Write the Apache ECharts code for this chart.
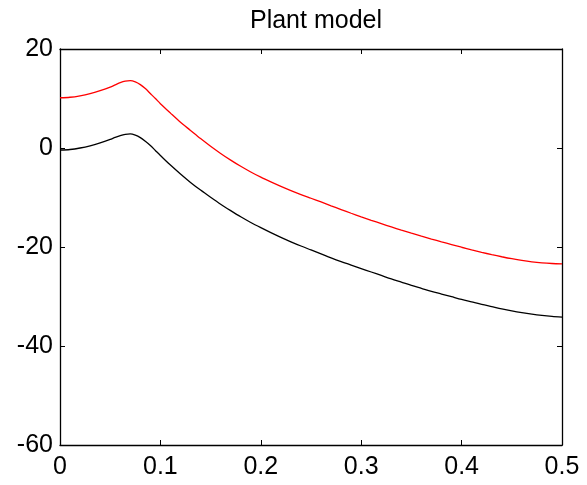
<!DOCTYPE html>
<html>
<head>
<meta charset="utf-8">
<script src="https://cdn.jsdelivr.net/npm/echarts@6/dist/echarts.min.js"></script>
<style>html,body{margin:0;padding:0;background:#fff;}#c{width:587px;height:485px;}</style>
</head>
<body>
<div id="c"></div>
<script>
var xValues = [0, 0.01, 0.02, 0.03, 0.04, 0.05, 0.055, 0.06, 0.065, 0.07, 0.075, 0.08, 0.085, 0.09, 0.095, 0.1, 0.11, 0.12, 0.13, 0.14, 0.15, 0.16, 0.17, 0.18, 0.19, 0.2, 0.21, 0.22, 0.23, 0.24, 0.25, 0.26, 0.27, 0.28, 0.29, 0.3, 0.31, 0.32, 0.33, 0.34, 0.35, 0.36, 0.37, 0.38, 0.39, 0.4, 0.41, 0.42, 0.43, 0.44, 0.45, 0.46, 0.47, 0.48, 0.49, 0.5];
var redValues = [10.15, 10.25, 10.55, 11.0, 11.6, 12.3, 12.75, 13.2, 13.5, 13.6, 13.35, 12.8, 12.0, 11.0, 10.0, 8.95, 7.05, 5.2, 3.55, 1.9, 0.35, -1.1, -2.45, -3.7, -4.85, -5.9, -6.85, -7.75, -8.6, -9.4, -10.15, -10.9, -11.68, -12.44, -13.18, -13.9, -14.6, -15.28, -15.95, -16.6, -17.22, -17.82, -18.4, -18.96, -19.5, -20.05, -20.58, -21.08, -21.54, -21.97, -22.37, -22.72, -23.0, -23.2, -23.33, -23.4];
var blackValues = [-0.4, -0.3, 0.0, 0.45, 1.05, 1.75, 2.15, 2.5, 2.75, 2.85, 2.6, 2.1, 1.35, 0.5, -0.5, -1.5, -3.45, -5.25, -6.95, -8.5, -9.95, -11.35, -12.65, -13.9, -15.05, -16.1, -17.1, -18.05, -18.95, -19.8, -20.6, -21.4, -22.2, -22.95, -23.65, -24.35, -25.05, -25.75, -26.45, -27.1, -27.75, -28.35, -28.95, -29.5, -30.05, -30.6, -31.1, -31.6, -32.05, -32.5, -32.9, -33.25, -33.55, -33.8, -34.0, -34.15];
var titleText = 'Plant model';
var xTicks = {min: 0, max: 0.5, interval: 0.1};
var yTicks = {min: -60, max: 20, interval: 20};

function pairs(xs, ys) { return xs.map(function (x, i) { return [x, ys[i]]; }); }

var font = 'Liberation Sans, Arial, sans-serif';
var chart = echarts.init(document.getElementById('c'), null, {renderer: 'canvas'});
var axisCommon = {
  axisLine: {show: true, onZero: false, lineStyle: {color: '#000', width: 1.3}},
  axisTick: {show: true, inside: true, length: 5, lineStyle: {color: '#000', width: 1}},
  splitLine: {show: false}
};
chart.setOption({
  animation: false,
  backgroundColor: '#fff',
  title: {text: titleText, left: 311, textAlign: 'center', top: 4,
    textStyle: {fontFamily: font, fontSize: 25, fontWeight: 'normal', color: '#000'}},
  grid: {left: 60, top: 49, right: 25, bottom: 40, containLabel: false},
  xAxis: [
    Object.assign({type: 'value', position: 'bottom', min: xTicks.min, max: xTicks.max, interval: xTicks.interval,
      axisLabel: {show: true, margin: 10, fontFamily: font, fontSize: 25, color: '#000'}}, axisCommon),
    Object.assign({type: 'value', position: 'top', min: xTicks.min, max: xTicks.max, interval: xTicks.interval,
      axisLabel: {show: false}}, axisCommon)
  ],
  yAxis: [
    Object.assign({type: 'value', position: 'left', min: yTicks.min, max: yTicks.max, interval: yTicks.interval,
      axisLabel: {show: true, margin: 7, fontFamily: font, fontSize: 25, color: '#000'}}, axisCommon),
    Object.assign({type: 'value', position: 'right', min: yTicks.min, max: yTicks.max, interval: yTicks.interval,
      axisLabel: {show: false}}, axisCommon)
  ],
  series: [
    {type: 'line', data: pairs(xValues, redValues), showSymbol: false, smooth: 0.3,
      lineStyle: {color: '#ff0000', width: 1.3}, itemStyle: {color: '#ff0000'}},
    {type: 'line', data: pairs(xValues, blackValues), showSymbol: false, smooth: 0.3,
      lineStyle: {color: '#000000', width: 1.3}, itemStyle: {color: '#000'}}
  ]
});
</script>
</body>
</html>
